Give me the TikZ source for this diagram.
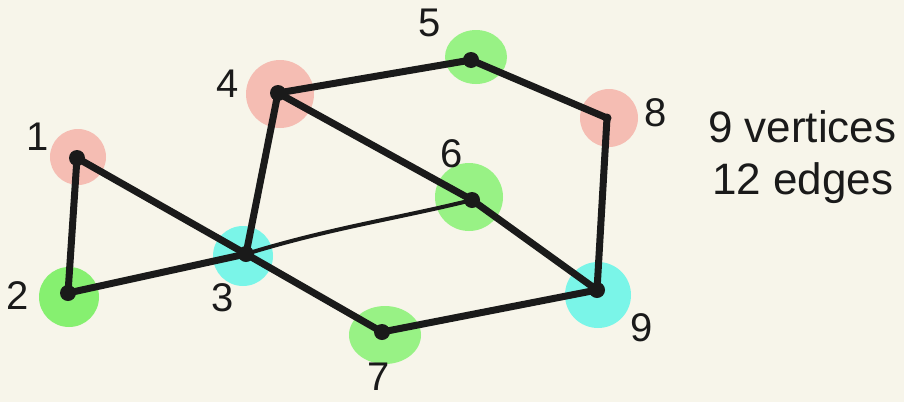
\documentclass[tikz,border=0pt]{standalone}
\usepackage{fontspec}
\setmainfont{Liberation Sans}
\usetikzlibrary{shapes.geometric}
\definecolor{bg}{HTML}{F7F5EA}
\definecolor{pinkb}{HTML}{F5BDB3}
\definecolor{greenb}{HTML}{86F070}
\definecolor{cyanb}{HTML}{7AF5E8}
\definecolor{ink}{HTML}{1A1A1A}
\tikzset{
  blob/.style={circle, minimum size=#1, inner sep=0pt},
  vtx/.style={circle, fill=ink, minimum size=16pt, inner sep=0pt},
  edge/.style={draw=ink, line width=7pt, line cap=round},
  thinedge/.style={draw=ink, line width=4pt, line cap=round},
  lbl/.style={font=\fontsize{40}{40}\selectfont, text=ink, inner sep=0pt},
  side/.style={font=\fontsize{44}{44}\selectfont, text=ink, inner sep=0pt, anchor=west},
}
\begin{document}
\begin{tikzpicture}[x=1pt,y=-1pt]
\fill[bg] (0,0) rectangle (904,402);
\useasboundingbox (0,0) rectangle (904,402);
% blobs
\node[blob=56pt, fill=pinkb] (b1) at (78,157) {};
\node[blob=60pt, fill=greenb] (b2) at (69,297) {};
\node[blob=60pt, fill=cyanb] (b3) at (243,256) {};
\node[blob=68pt, fill=pinkb] (b4) at (280,94) {};
\node[ellipse, minimum width=62pt, minimum height=54pt, inner sep=0pt, fill=greenb!85!white] (b5) at (476,57) {};
\node[blob=68pt, fill=greenb!85!white] (b6) at (469,197) {};
\node[ellipse, minimum width=72pt, minimum height=58pt, inner sep=0pt, fill=greenb!85!white] (b7) at (385,335) {};
\node[blob=58pt, fill=pinkb] (b8) at (609,118) {};
\node[blob=66pt, fill=cyanb] (b9) at (598,295) {};
% vertices
\node[vtx] (v1) at (77,158) {};
\node[vtx] (v2) at (68,293) {};
\node[vtx] (v3) at (246,254) {};
\node[vtx] (v4) at (278,93) {};
\node[vtx] (v5) at (471,60) {};
\node[vtx] (v6) at (472,200) {};
\node[vtx] (v7) at (382,332) {};
\node[vtx, minimum size=9pt] (v8) at (607,118) {};
\node[vtx] (v9) at (597,290) {};
% edges
\draw[edge] (v1.center) -- (v2.center);
\draw[edge] (v1.center) -- (v3.center);
\draw[edge] (v2.center) -- (v3.center);
\draw[edge] (v3.center) -- (v4.center);
\draw[thinedge] (v3.center) .. controls (330,228) and (400,218) .. (v6.center);
\draw[edge] (v3.center) -- (v7.center);
\draw[edge] (v4.center) -- (v5.center);
\draw[edge] (v4.center) -- (v6.center);
\draw[edge] (v5.center) -- (v8.center);
\draw[edge] (v8.center) -- (v9.center);
\draw[edge] (v6.center) -- (v9.center);
\draw[edge] (v7.center) -- (v9.center);
% labels
\node[lbl] (l1) at (38,137) {1};
\node[lbl] (l2) at (18,296) {2};
\node[lbl] (l3) at (223,298) {3};
\node[lbl] (l4) at (228,84) {4};
\node[lbl] (l5) at (430,23) {5};
\node[lbl] (l6) at (452,154) {6};
\node[lbl] (l7) at (379,377) {7};
\node[lbl] (l8) at (656,113) {8};
\node[lbl] (l9) at (642,328) {9};
\node[side] (t1) at (708,127) {9 vertices};
\node[side] (t2) at (712,183) {12 edges};
\end{tikzpicture}
\end{document}
